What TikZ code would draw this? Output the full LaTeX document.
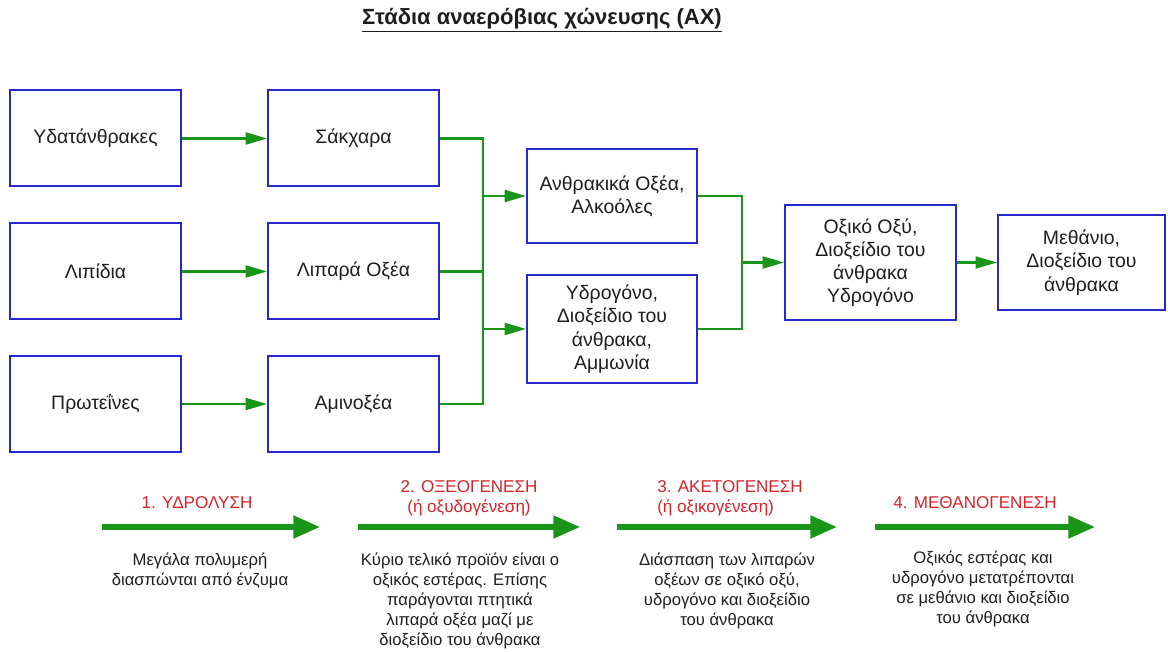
\documentclass[tikz,border=0pt]{standalone}
\usepackage{fontspec}
\setmainfont{Liberation Sans}
\usetikzlibrary{arrows.meta}
\definecolor{boxblue}{RGB}{40,40,205}
\definecolor{lgreen}{RGB}{25,150,25}
\definecolor{lred}{RGB}{215,35,40}
\definecolor{txt}{RGB}{30,30,30}
\tikzset{
  box/.style={draw=boxblue, line width=1.5pt, rectangle, align=center, text=txt,
    font=\fontsize{14.6}{17.4}\selectfont, inner sep=2pt},
  gline/.style={draw=lgreen, line width=1.6pt},
  garr/.style={gline, -{Triangle[length=16pt,width=9pt]}},
  bigarr/.style={draw=lgreen, line width=3.8pt, -{Triangle[length=20pt,width=16.5pt]}},
  stage/.style={text=lred, align=center, font=\fontsize{12.8}{15}\selectfont, inner sep=0pt},
  desc/.style={text=txt, align=center, font=\fontsize{12.5}{15}\selectfont, inner sep=0pt},
}
\begin{document}
\begin{tikzpicture}[x=0.75pt,y=-0.75pt]
\useasboundingbox (0,0) rectangle (1168,652);
% title
\node[text=txt, font=\bfseries\fontsize{16.5}{19}\selectfont] (title) at (542,20) {\underline{Στάδια αναερόβιας χώνευσης (ΑΧ)}};
% boxes
\node[box, minimum width=128.25pt, minimum height=72pt] (hyd) at (95.5,138.5) {Υδατάνθρακες};
\node[box, minimum width=128.25pt, minimum height=72pt] (lip) at (95.5,271.5) {Λιπίδια};
\node[box, minimum width=128.25pt, minimum height=72pt] (pro) at (95.5,404) {Πρωτεΐνες};
\node[box, minimum width=128.25pt, minimum height=72pt] (sak) at (353.5,138.5) {Σάκχαρα};
\node[box, minimum width=128.25pt, minimum height=72pt] (lpo) at (353.5,271.5) {Λιπαρά Οξέα};
\node[box, minimum width=128.25pt, minimum height=72pt] (ami) at (353.5,404) {Αμινοξέα};
\node[box, minimum width=127.5pt, minimum height=70.5pt] (anth) at (612,196) {Ανθρακικά Οξέα,\\Αλκοόλες};
\node[box, minimum width=127.5pt, minimum height=81pt] (ydr) at (612,329) {Υδρογόνο,\\Διοξείδιο του\\άνθρακα,\\Αμμωνία};
\node[box, minimum width=128.25pt, minimum height=86.25pt] (oxi) at (870.5,262.5) {Οξικό Οξύ,\\Διοξείδιο του\\άνθρακα\\Υδρογόνο};
\node[box, minimum width=125.25pt, minimum height=71.25pt] (met) at (1081.5,262.5) {Μεθάνιο,\\Διοξείδιο του\\άνθρακα};
% bus coordinates
\coordinate (busa) at (483,0);
\coordinate (busb) at (742,0);
% connectors
\draw[garr] (hyd) -- (sak);
\draw[garr] (lip) -- (lpo);
\draw[garr] (pro) -- (ami);
\draw[gline] (sak.east) -- (sak.east -| busa) -- (ami.east -| busa) -- (ami.east);
\draw[gline] (lpo.east) -- (lpo.east -| busa);
\draw[garr] (anth.west -| busa) -- (anth.west);
\draw[garr] (ydr.west -| busa) -- (ydr.west);
\draw[gline] (anth.east) -- (anth.east -| busb) -- (ydr.east -| busb) -- (ydr.east);
\draw[garr] (oxi.west -| busb) -- (oxi.west);
\draw[garr] (oxi) -- (met);
% stage arrows
\coordinate (a1s) at (102,527); \coordinate (a1e) at (320,527);
\coordinate (a2s) at (358,527); \coordinate (a2e) at (580,527);
\coordinate (a3s) at (617,527); \coordinate (a3e) at (837,527);
\coordinate (a4s) at (875,527); \coordinate (a4e) at (1095,527);
\draw[bigarr] (a1s) -- (a1e);
\draw[bigarr] (a2s) -- (a2e);
\draw[bigarr] (a3s) -- (a3e);
\draw[bigarr] (a4s) -- (a4e);
% stage labels
\node[stage] (s1) at (197,503) {1. ΥΔΡΟΛΥΣΗ};
\node[stage] (s2) at (469,498.5) {2. ΟΞΕΟΓΕΝΕΣΗ\\(ή οξυδογένεση)};
\node[stage, anchor=west, align=left] (s3) at (657,498.5) {3. ΑΚΕΤΟΓΕΝΕΣΗ\\(ή οξικογένεση)};
\node[stage] (s4) at (975,503) {4. ΜΕΘΑΝΟΓΕΝΕΣΗ};
% descriptions
\node[desc] (d1) at (200,571) {Μεγάλα πολυμερή\\διασπώνται από ένζυμα};
\node[desc] (d2) at (460,601) {Κύριο τελικό προϊόν είναι ο\\οξικός εστέρας. Επίσης\\παράγονται πτητικά\\λιπαρά οξέα μαζί με\\διοξείδιο του άνθρακα};
\node[desc] (d3) at (727,591) {Διάσπαση των λιπαρών\\οξέων σε οξικό οξύ,\\υδρογόνο και διοξείδιο\\του άνθρακα};
\node[desc] (d4) at (983,589) {Οξικός εστέρας και\\υδρογόνο μετατρέπονται\\σε μεθάνιο και διοξείδιο\\του άνθρακα};
\end{tikzpicture}
\end{document}
